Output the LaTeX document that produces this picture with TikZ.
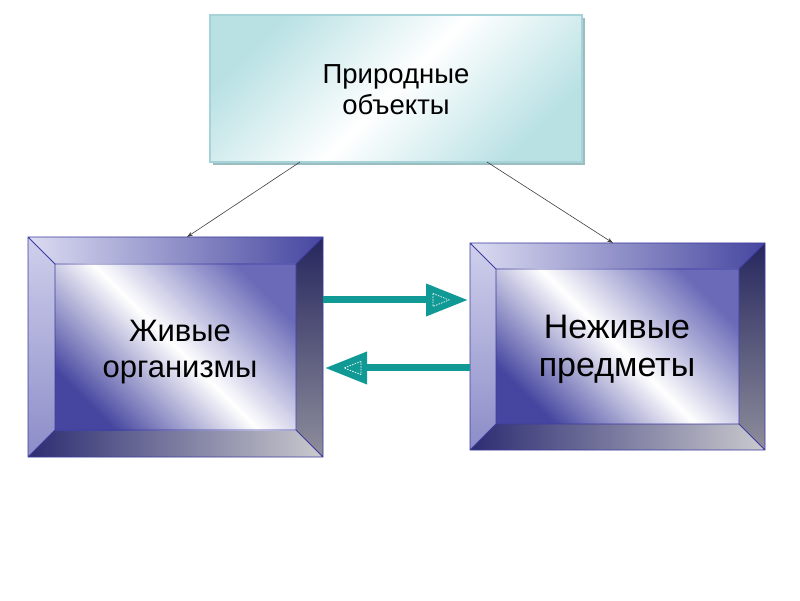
\documentclass[tikz,border=0pt]{standalone}
\usepackage{fontspec}
\setmainfont{Liberation Sans}
\usetikzlibrary{arrows.meta,calc}
\definecolor{cyanC}{HTML}{B9E1E4}
\definecolor{cyanEdge}{HTML}{A6D3D7}
\definecolor{cyanShadow}{HTML}{9ABDBF}
\definecolor{bvTopL}{HTML}{DCDCF2}
\definecolor{bvTopR}{HTML}{4646A0}
\definecolor{bvLeftT}{HTML}{CFCFEC}
\definecolor{bvLeftB}{HTML}{8C8CC8}
\definecolor{bvRightT}{HTML}{26265E}
\definecolor{bvRightB}{HTML}{8E8E9C}
\definecolor{bvBotL}{HTML}{2C2C72}
\definecolor{bvBotR}{HTML}{CACACE}
\definecolor{faceA}{HTML}{4646A0}
\definecolor{faceB}{HTML}{6A6AB8}
\definecolor{edgeC}{HTML}{3C3CA0}
\definecolor{tealC}{HTML}{119A95}
\definecolor{lineC}{HTML}{404040}
\newcommand\mybevelbox[2]{%
 \coordinate (#1a) at (#1.north west);
 \coordinate (#1b) at (#1.north east);
 \coordinate (#1c) at (#1.south east);
 \coordinate (#1d) at (#1.south west);
 \coordinate (#1A) at ($(#1.north west)+(#2,-#2)$);
 \coordinate (#1B) at ($(#1.north east)+(-#2,-#2)$);
 \coordinate (#1C) at ($(#1.south east)+(-#2,#2)$);
 \coordinate (#1D) at ($(#1.south west)+(#2,#2)$);
 \shade[left color=bvTopL, right color=bvTopR] (#1a)--(#1b)--(#1B)--(#1A)--cycle;
 \shade[top color=bvLeftT, bottom color=bvLeftB] (#1a)--(#1A)--(#1D)--(#1d)--cycle;
 \shade[top color=bvRightT, bottom color=bvRightB] (#1b)--(#1c)--(#1C)--(#1B)--cycle;
 \shade[left color=bvBotL, right color=bvBotR] (#1d)--(#1D)--(#1C)--(#1c)--cycle;
 \shade[left color=faceB, right color=faceA, middle color=white, shading angle=-45] (#1A) rectangle (#1C);
 \draw[edge] (#1a)--(#1b)--(#1c)--(#1d)--cycle (#1A)--(#1B)--(#1C)--(#1D)--cycle
   (#1a)--(#1A) (#1b)--(#1B) (#1c)--(#1C) (#1d)--(#1D);
}
\tikzset{
 edge/.style={draw=edgeC, line width=0.8pt},
 boxshape/.style={rectangle, inner sep=0pt, outer sep=0pt},
 thinarrow/.style={draw=lineC, line width=0.6pt, -{Stealth[length=6pt,width=4pt]}},
 tealarrow/.style={draw=tealC, line width=7pt, -{Triangle[length=42pt,width=31pt]}},
 innertri/.style={draw=white, line width=0.7pt, dash pattern=on 1.5pt off 1.2pt},
 toplabel/.style={font=\fontsize{27.5}{31}\selectfont, align=center, text=black},
 boxlabel/.style={font=\fontsize{31}{36}\selectfont, align=center, text=black},
 boxlabelR/.style={font=\fontsize{34}{38}\selectfont, align=center, text=black}
}
\begin{document}
\begin{tikzpicture}[x=1pt,y=1pt]
\useasboundingbox (0,0) rectangle (800,600);
\fill[white] (0,0) rectangle (800,600);
% nodes
\node[boxshape, minimum width=372pt, minimum height=147pt] (top) at (396,511.5) {};
\node[boxshape, minimum width=295pt, minimum height=220pt] (L) at (175.5,253) {};
\node[boxshape, minimum width=295pt, minimum height=207pt] (R) at (617.5,253.5) {};
% top box
\fill[cyanShadow] ($(top.south west)+(3,-3)$) rectangle ($(top.north east)+(3,-3)$);
\shade[left color=cyanC, right color=cyanC, middle color=white, shading angle=45] (top.south west) rectangle (top.north east);
\draw[cyanEdge, line width=1.5pt] (top.south west) rectangle (top.north east);
\node[toplabel] (toptext) at (396,510) {Природные\\объекты};
% bevel boxes
\mybevelbox{L}{27}
\mybevelbox{R}{26}
\node[boxlabel] (Ltext) at (180,248) {Живые\\организмы};
\node[boxlabelR] (Rtext) at (617,251) {Неживые\\предметы};
% thin arrows
\draw[thinarrow] ($(top.south)+(-96,0)$) -- ($(L.north)+(11.5,0)$);
\draw[thinarrow] ($(top.south)+(91,0)$) -- ($(R.north)+(-4.5,0)$);
% teal arrows
\draw[tealarrow] ($(L.east)+(0,47)$) -- ($(R.west)+(-2,46.5)$);
\draw[tealarrow] ($(R.west)+(0,-21.5)$) -- ($(L.east)+(2,-21)$);
\draw[innertri] (433,306.5) -- (449,300) -- (433,293.5) -- cycle;
\draw[innertri] (361,238.5) -- (344,232) -- (361,225.5) -- cycle;
\end{tikzpicture}
\end{document}
